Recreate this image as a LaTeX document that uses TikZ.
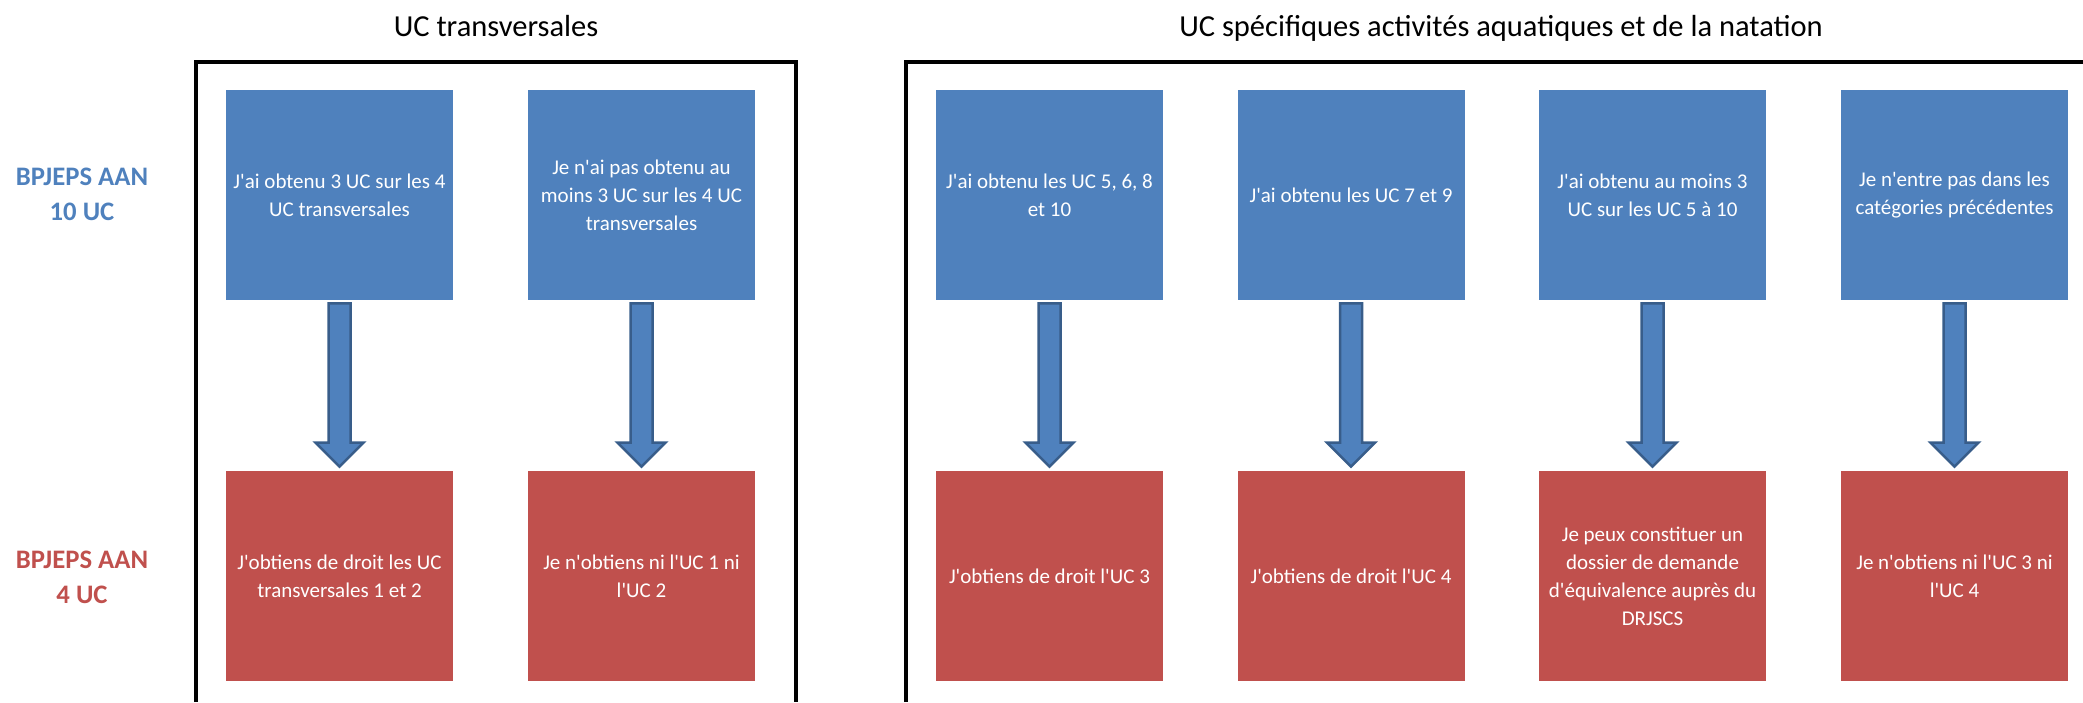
\documentclass[tikz,border=0pt]{standalone}
\usepackage{fontspec}
\newfontfamily\calfont{Carlito}
\usetikzlibrary{calc}
\definecolor{boxblue}{HTML}{4F81BD}
\definecolor{boxred}{HTML}{C0504D}
\definecolor{arrline}{HTML}{385D8A}
\tikzset{
  bluebox/.style={fill=boxblue, text=white, minimum width=113.5pt, minimum height=105pt, inner sep=0pt, align=center,
    font=\calfont\fontsize{10.5pt}{14pt}\selectfont},
  redbox/.style={bluebox, fill=boxred},
  coltitle/.style={anchor=base, font=\calfont\fontsize{15.25pt}{18pt}\selectfont},
  rowlabel/.style={align=center, font=\calfont\bfseries\fontsize{13.35pt}{17.5pt}\selectfont},
  frame/.style={draw=black, line width=2pt},
  bigarrow/.style={fill=boxblue, draw=arrline, line width=1.25pt, line join=miter}
}
\begin{document}
\begin{tikzpicture}[x=0.5pt, y=-0.5pt]
\useasboundingbox (0,0) rectangle (2083,702);
% titles
\node[coltitle] (t1) at (496,36) {UC transversales};
\node[coltitle] (t2) at (1501,36) {UC spécifiques activités aquatiques et de la natation};
% frames
\draw[frame] (196,702) -- (196,62) -- (796,62) -- (796,702);
\draw[frame] (906,702) -- (906,62) -- (2083,62);
% row labels
\node[rowlabel, text=boxblue] (l1) at (82,194.5) {BPJEPS AAN\\10 UC};
\node[rowlabel, text=boxred] (l2) at (82,577) {BPJEPS AAN\\4 UC};
% blue boxes
\node[bluebox] (b1) at (339.5,195) {J'ai obtenu 3 UC sur les 4\\UC transversales};
\node[bluebox] (b2) at (641.5,195) {Je n'ai pas obtenu au\\moins 3 UC sur les 4 UC\\transversales};
\node[bluebox] (b3) at (1049.5,195) {J'ai obtenu les UC 5, 6, 8\\et 10};
\node[bluebox] (b4) at (1351,195) {J'ai obtenu les UC 7 et 9};
\node[bluebox] (b5) at (1652.5,195) {J'ai obtenu au moins 3\\UC sur les UC 5 à 10};
\node[bluebox] (b6) at (1954.5,195) {Je n'entre pas dans les\\catégories précédentes};
% red boxes
\node[redbox] (r1) at (339.5,576) {J'obtiens de droit les UC\\transversales 1 et 2};
\node[redbox] (r2) at (641.5,576) {Je n'obtiens ni l'UC 1 ni\\l'UC 2};
\node[redbox] (r3) at (1049.5,576) {J'obtiens de droit l'UC 3};
\node[redbox] (r4) at (1351,576) {J'obtiens de droit l'UC 4};
\node[redbox] (r5) at (1652.5,576) {Je peux constituer un\\dossier de demande\\d'équivalence auprès du\\DRJSCS};
\node[redbox] (r6) at (1954.5,576) {Je n'obtiens ni l'UC 3 ni\\l'UC 4};
% arrows
\foreach \i in {1,...,6} {
  \draw[bigarrow] ($(b\i.south)+(-11,3)$) -- ($(r\i.north)+(-11,-28)$) -- ($(r\i.north)+(-24,-28)$)
    -- ($(r\i.north)+(0,-4)$) -- ($(r\i.north)+(24,-28)$) -- ($(r\i.north)+(11,-28)$)
    -- ($(b\i.south)+(11,3)$) -- cycle;
}
\end{tikzpicture}
\end{document}
